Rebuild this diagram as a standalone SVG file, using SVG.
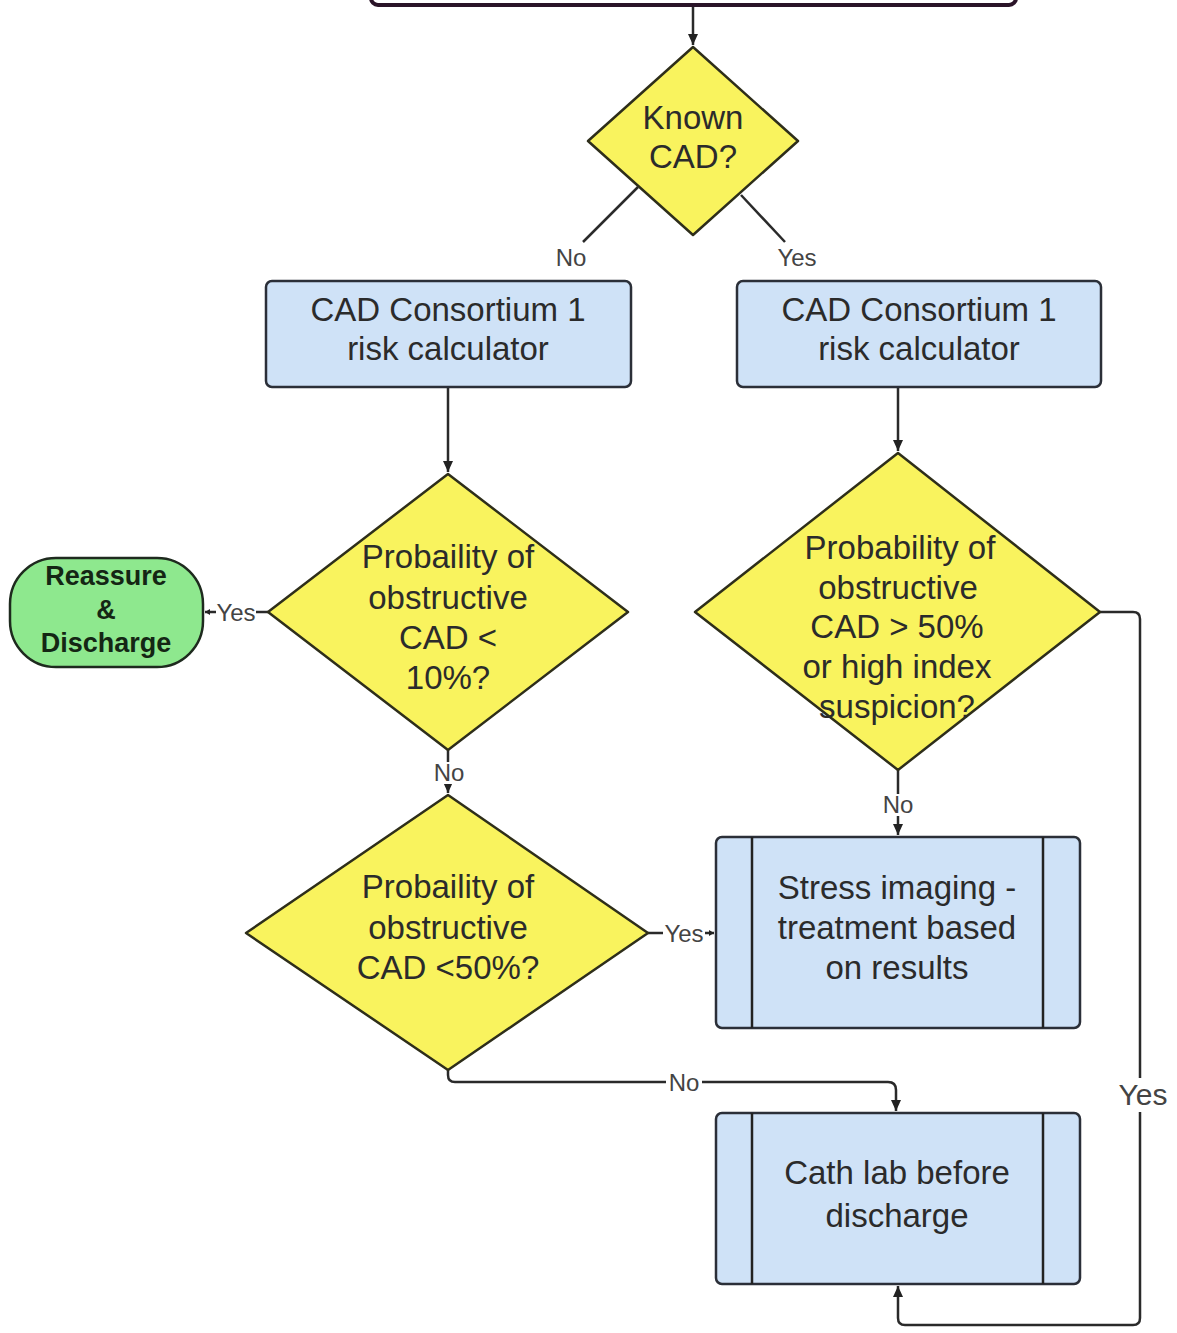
<svg xmlns="http://www.w3.org/2000/svg" width="1177" height="1333" viewBox="0 0 1177 1333">
<style>
.txt{font-family:"Liberation Sans",Arial,sans-serif;font-size:33px;fill:#2b2b2b;text-anchor:middle}
.bold{font-family:"Liberation Sans",Arial,sans-serif;font-size:27px;font-weight:bold;fill:#142614;text-anchor:middle}
.lbl{font-family:"Liberation Sans",Arial,sans-serif;font-size:24px;fill:#444;text-anchor:middle}
.big{font-family:"Liberation Sans",Arial,sans-serif;font-size:30px;fill:#444;text-anchor:middle}
.dia{fill:#f9f35e;stroke:#2e2e1a;stroke-width:2.5;stroke-linejoin:round}
.box{fill:#cfe2f7;stroke:#2b2f38;stroke-width:2.5}
.edge{fill:none;stroke:#2a2a2a;stroke-width:2.5}
.bg{fill:#fff}
</style>
<defs>
<marker id="arr" markerUnits="userSpaceOnUse" markerWidth="12" markerHeight="10" refX="11" refY="5" orient="auto"><path d="M0,0 L11,5 L0,10 z" fill="#222"/></marker>
<marker id="sarr" markerUnits="userSpaceOnUse" markerWidth="6" markerHeight="6" refX="5" refY="3" orient="auto"><path d="M0,0 L5,3 L0,6 z" fill="#222"/></marker>
</defs>
<rect width="1177" height="1333" fill="#fff"/>

<g id="top-box"><rect x="371" y="-30" width="645" height="35" rx="7" fill="#fff" stroke="#2a1428" stroke-width="4"/></g>

<g id="connectors">
<path class="edge" d="M693,7 V45" marker-end="url(#arr)"/>
<path class="edge" d="M638,187 L583,242"/>
<path class="edge" d="M741,195 L785,242"/>
<path class="edge" d="M448,387 V472" marker-end="url(#arr)"/>
<path class="edge" d="M898,387 V451" marker-end="url(#arr)"/>
<path class="edge" d="M268,612 H205" marker-end="url(#sarr)"/>
<path class="edge" d="M448,750 V793" marker-end="url(#arr)"/>
<path class="edge" d="M898,770 V835" marker-end="url(#arr)"/>
<path class="edge" d="M648,933 H714" marker-end="url(#sarr)"/>
<path class="edge" d="M448,1070 V1075 Q448,1082 455,1082 H888 Q896,1082 896,1090 V1111" marker-end="url(#arr)"/>
<path class="edge" d="M1100,612 H1133 Q1140,612 1140,619 V1318 Q1140,1325 1133,1325 H905 Q898,1325 898,1318 V1286" marker-end="url(#arr)"/>
<text class="lbl" x="571" y="266">No</text>
<text class="lbl" x="797" y="266">Yes</text>
<rect class="bg" x="216" y="600" width="40" height="24"/>
<text class="lbl" x="236" y="621">Yes</text>
<rect class="bg" x="433" y="762" width="32" height="22"/>
<text class="lbl" x="449" y="781">No</text>
<rect class="bg" x="882" y="794" width="32" height="22"/>
<text class="lbl" x="898" y="813">No</text>
<rect class="bg" x="663" y="922" width="42" height="24"/>
<text class="lbl" x="684" y="942">Yes</text>
<rect class="bg" x="666" y="1071" width="36" height="24"/>
<text class="lbl" x="684" y="1091">No</text>
<rect class="bg" x="1115" y="1078" width="56" height="34"/>
<text class="big" x="1143" y="1105">Yes</text>
</g>

<g id="known-cad">
<polygon class="dia" points="693,47 798,141 693,235 588,141"/>
<text class="txt" x="693" y="129">Known</text>
<text class="txt" x="693" y="168">CAD?</text>
</g>

<g id="risk-left">
<rect class="box" x="266" y="281" width="365" height="106" rx="6"/>
<text class="txt" x="448" y="321">CAD Consortium 1</text>
<text class="txt" x="448" y="360">risk calculator</text>
</g>

<g id="risk-right">
<rect class="box" x="737" y="281" width="364" height="106" rx="6"/>
<text class="txt" x="919" y="321">CAD Consortium 1</text>
<text class="txt" x="919" y="360">risk calculator</text>
</g>

<g id="prob-10">
<polygon class="dia" points="448,474 628,612 448,750 268,612"/>
<text class="txt" x="448" y="568">Probaility of</text>
<text class="txt" x="448" y="609">obstructive</text>
<text class="txt" x="448" y="649">CAD &lt;</text>
<text class="txt" x="448" y="689">10%?</text>
</g>

<g id="prob-50-high">
<polygon class="dia" points="898,453 1100,612 898,770 695,612"/>
<text class="txt" x="900" y="559">Probability of</text>
<text class="txt" x="898" y="599">obstructive</text>
<text class="txt" x="897" y="638">CAD &gt; 50%</text>
<text class="txt" x="897" y="678">or high index</text>
<text class="txt" x="897" y="718">suspicion?</text>
</g>

<g id="reassure">
<rect x="10" y="558" width="193" height="109" rx="46" fill="#8ee88e" stroke="#1e2a1e" stroke-width="2.5"/>
<text class="bold" x="106" y="585">Reassure</text>
<text class="bold" x="106" y="619">&amp;</text>
<text class="bold" x="106" y="652">Discharge</text>
</g>

<g id="prob-lt50">
<polygon class="dia" points="448,795 648,933 448,1070 246,933"/>
<text class="txt" x="448" y="898">Probaility of</text>
<text class="txt" x="448" y="939">obstructive</text>
<text class="txt" x="448" y="979">CAD &lt;50%?</text>
</g>

<g id="stress-imaging">
<rect class="box" x="716" y="837" width="364" height="191" rx="6"/>
<line x1="752" y1="837" x2="752" y2="1028" stroke="#222" stroke-width="2.5"/>
<line x1="1043" y1="837" x2="1043" y2="1028" stroke="#222" stroke-width="2.5"/>
<text class="txt" x="897" y="899">Stress imaging -</text>
<text class="txt" x="897" y="939">treatment based</text>
<text class="txt" x="897" y="979">on results</text>
</g>

<g id="cath-lab">
<rect class="box" x="716" y="1113" width="364" height="171" rx="6"/>
<line x1="752" y1="1113" x2="752" y2="1284" stroke="#222" stroke-width="2.5"/>
<line x1="1043" y1="1113" x2="1043" y2="1284" stroke="#222" stroke-width="2.5"/>
<text class="txt" x="897" y="1184">Cath lab before</text>
<text class="txt" x="897" y="1227">discharge</text>
</g>
</svg>
